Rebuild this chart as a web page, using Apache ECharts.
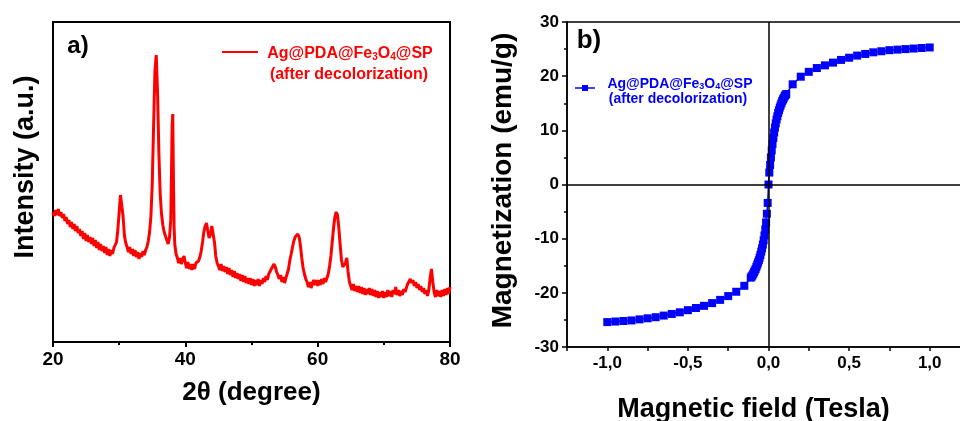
<!DOCTYPE html>
<html>
<head>
  <meta charset="utf-8">
  <title>XRD and VSM</title>
  <script src="https://cdn.jsdelivr.net/npm/echarts@6/dist/echarts.min.js"></script>
  <style>
    html, body { margin: 0; padding: 0; background: #fff; }
    #chart { width: 960px; height: 421px; }
  </style>
</head>
<body>
<div id="chart"></div>
<script>
  // a) XRD pattern, [2theta, intensity in arbitrary units]
  const xrdPattern = [
    [20.0,130],[20.2,126],[20.4,132],[20.6,127],[20.8,133],[21.0,126],[21.2,130],[21.4,124],[21.6,128],[21.8,121],
    [22.0,125],[22.2,118],[22.4,122],[22.6,115],[22.8,120],[23.0,113],[23.2,118],[23.4,111],[23.6,116],[23.8,109],
    [24.0,113],[24.2,106],[24.4,111],[24.6,103],[24.8,109],[25.0,101],[25.2,107],[25.4,100],[25.6,105],[25.8,98],
    [26.0,104],[26.2,96],[26.4,102],[26.6,94],[26.8,100],[27.0,92],[27.2,98],[27.4,91],[27.6,96],[27.8,89],
    [28.0,95],[28.2,87],[28.4,93],[28.6,86],[28.8,92],[29.0,88],[29.2,94],[29.4,92],[29.6,100],[29.8,112],
    [30.0,130],[30.2,147],[30.4,146],[30.6,125],[30.8,106],[31.0,99],[31.2,95],[31.4,90],[31.6,95],[31.8,88],
    [32.0,93],[32.2,86],[32.4,92],[32.6,85],[32.8,90],[33.0,83],[33.2,89],[33.4,85],[33.6,91],[33.8,87],
    [34.0,92],[34.2,95],[34.4,101],[34.6,110],[34.8,126],[35.0,158],[35.2,215],[35.4,270],[35.6,287],[35.8,250],
    [36.0,190],[36.2,148],[36.4,128],[36.6,117],[36.8,110],[37.0,106],[37.2,102],[37.4,98],[37.6,104],[37.8,122],
    [37.9,165],[38.0,215],[38.1,228],[38.2,165],[38.3,115],[38.4,98],[38.6,88],[38.8,84],[39.0,79],[39.2,84],
    [39.4,78],[39.6,83],[39.8,86],
    [40.0,79],[40.2,74],[40.4,80],[40.6,73],[40.8,78],[41.0,72],[41.2,78],[41.4,73],[41.6,79],[41.8,77],
    [42.0,81],[42.2,85],[42.4,91],[42.6,100],[42.8,110],[43.0,116],[43.2,119],[43.4,111],[43.6,104],[43.8,108],
    [44.0,116],[44.2,118],[44.4,100],[44.6,86],[44.8,79],[45.0,76],[45.2,72],[45.4,78],[45.6,71],[45.8,76],
    [46.0,70],[46.2,75],[46.4,68],[46.6,74],[46.8,67],[47.0,72],[47.2,65],[47.4,71],[47.6,64],[47.8,69],
    [48.0,63],[48.2,68],[48.4,61],[48.6,67],[48.8,60],[49.0,66],[49.2,59],[49.4,64],[49.6,58],[49.8,64],
    [50.0,57],[50.2,63],[50.4,56],[50.6,62],[50.8,57],[51.0,63],[51.2,56],[51.4,62],[51.6,58],[51.8,64],
    [52.0,60],[52.2,66],[52.4,62],[52.6,68],[52.8,70],[53.0,73],[53.2,71],[53.4,78],[53.6,75],[53.8,70],
    [54.0,67],[54.2,63],[54.4,67],[54.6,60],[54.8,65],[55.0,59],[55.2,64],[55.4,66],[55.6,73],[55.8,82],
    [56.0,88],[56.2,95],[56.4,101],[56.6,105],[56.8,107],[57.0,108],[57.2,105],[57.4,96],[57.6,84],[57.8,74],
    [58.0,68],[58.2,63],[58.4,60],[58.6,55],[58.8,60],[59.0,54],[59.2,59],[59.4,62],[59.6,57],[59.8,62],
    [60.0,56],[60.2,62],[60.4,57],[60.6,63],[60.8,58],[61.0,64],[61.2,60],[61.4,64],[61.6,68],[61.8,76],
    [62.0,86],[62.2,100],[62.4,114],[62.6,125],[62.8,130],[63.0,127],[63.2,114],[63.4,97],[63.6,82],[63.8,75],
    [64.0,74],[64.2,79],[64.4,84],[64.6,70],[64.8,60],[65.0,56],[65.2,52],[65.4,58],[65.6,51],[65.8,56],
    [66.0,50],[66.2,56],[66.4,49],[66.6,55],[66.8,48],[67.0,54],[67.2,47],[67.4,53],[67.6,48],[67.8,54],
    [68.0,47],[68.2,53],[68.4,46],[68.6,52],[68.8,45],[69.0,51],[69.2,44],[69.4,50],[69.6,45],[69.8,51],
    [70.0,44],[70.2,50],[70.4,45],[70.6,52],[70.8,46],[71.0,51],[71.2,45],[71.4,52],[71.6,48],[71.8,55],
    [72.0,47],[72.2,52],[72.4,46],[72.6,51],[72.8,47],[73.0,53],[73.2,50],[73.4,54],[73.6,58],[73.8,60],
    [74.0,63],[74.2,59],[74.4,62],[74.6,56],[74.8,60],[75.0,54],[75.2,58],[75.4,52],[75.6,56],[75.8,50],
    [76.0,54],[76.2,48],[76.4,52],[76.6,46],[76.8,52],[77.0,64],[77.2,73],[77.4,60],[77.6,50],[77.8,45],
    [78.0,52],[78.2,46],[78.4,51],[78.6,45],[78.8,52],[79.0,46],[79.2,53],[79.4,47],[79.6,54],[79.8,48],
    [80.0,55]
  ]

  // b) magnetization loop
  const fieldT = [
    -1.0, -0.95, -0.9, -0.85, -0.8, -0.75, -0.7, -0.65, -0.6, -0.55, -0.5, -0.45, -0.4, -0.35, -0.3, -0.25, -0.2, -0.15,
    -0.11, -0.105, -0.1, -0.095, -0.09, -0.085, -0.08, -0.075, -0.07, -0.065, -0.06, -0.055, -0.05, -0.045,
    -0.04, -0.035, -0.03, -0.025, -0.02, -0.015, -0.01, -0.005,
    0, 0.005, 0.01, 0.015, 0.02, 0.025, 0.03, 0.035, 0.04, 0.045, 0.05, 0.055, 0.06, 0.065, 0.07, 0.075,
    0.08, 0.085, 0.09, 0.095, 0.1, 0.105, 0.11,
    0.15, 0.2, 0.25, 0.3, 0.35, 0.4, 0.45, 0.5, 0.55, 0.6, 0.65, 0.7, 0.75, 0.8, 0.85, 0.9, 0.95, 1.0
  ]
  const magnetization = [
    -25.4, -25.3, -25.2, -25.1, -24.9, -24.7, -24.5, -24.2, -23.9, -23.6, -23.2, -22.8, -22.4, -21.9, -21.3, -20.6, -19.8, -18.7,
    -17.2, -17.0, -16.8, -16.5, -16.2, -15.9, -15.6, -15.2, -14.8, -14.4, -14.0, -13.5, -13.0, -12.4,
    -11.8, -11.1, -10.3, -9.4, -8.3, -7.0, -5.4, -3.4,
    0.0, 2.2, 3.6, 5.0, 6.3, 7.5, 8.6, 9.6, 10.5, 11.3, 12.0, 12.6, 13.2, 13.7, 14.2, 14.6,
    15.0, 15.4, 15.7, 16.0, 16.3, 16.5, 16.7,
    18.5, 19.9, 20.8, 21.5, 22.0, 22.5, 23.0, 23.4, 23.8, 24.1, 24.4, 24.6, 24.8, 24.9, 25.0, 25.1, 25.2, 25.3
  ]

  const seriesName = 'Ag@PDA@Fe3O4@SP (after decolorization)'
  const fontFamily = "'Liberation Sans', Arial, Helvetica, sans-serif"
  const black = '#000'

  let chart = echarts.init(document.getElementById('chart'), null, { renderer: 'canvas' })

  // shared bold text style
  function bold(size, color) {
    return { color: color || black, fontSize: size, fontWeight: 'bold', fontFamily: fontFamily }
  }

  // rich text for the sample name with subscripts
  function sampleRich(size, color) {
    return {
      n: { fontSize: size, fontWeight: 'bold', fontFamily: fontFamily, fill: color, color: color, verticalAlign: 'bottom', lineHeight: size + 4 },
      s: { fontSize: Math.round(size * 0.65), fontWeight: 'bold', fontFamily: fontFamily, fill: color, color: color, verticalAlign: 'bottom', lineHeight: Math.round(size * 0.65) }
    }
  }
  const sampleText = '{n|Ag@PDA@Fe}{s|3}{n|O}{s|4}{n|@SP}'

  let option = {
    animation: false,
    backgroundColor: '#fff',
    grid: [
      { left: 53, top: 22, width: 397, height: 320, show: true, borderColor: black, borderWidth: 2, outerBoundsMode: 'none', containLabel: false },
      // right edge of the second frame lies past the picture border
      { left: 567, top: 22, width: 403, height: 325, show: true, borderColor: black, borderWidth: 1.5, outerBoundsMode: 'none', containLabel: false }
    ],
    xAxis: [
      {
        gridIndex: 0, type: 'value', min: 20, max: 80, interval: 20,
        name: '2θ (degree)', nameLocation: 'middle', nameGap: 38, nameTextStyle: bold(26),
        axisLine: { lineStyle: { color: black, width: 2 } },
        axisTick: { length: 5, lineStyle: { color: black, width: 2 } },
        minorTick: { show: true, splitNumber: 2, length: 3, lineStyle: { color: black, width: 2 } },
        axisLabel: Object.assign(bold(19), { margin: 8 }),
        splitLine: { show: false }
      },
      {
        gridIndex: 1, type: 'value', min: -1.25, max: 1.25, interval: 0.25,
        name: 'Magnetic field (Tesla)', nameLocation: 'middle', nameGap: 49,
        nameTextStyle: Object.assign(bold(27), { padding: [0, 30, 0, 0] }),
        axisLine: { onZero: false, lineStyle: { color: black, width: 1.5 } },
        axisTick: { length: 4, lineStyle: { color: black, width: 1.5 } },
        axisLabel: Object.assign(bold(17), {
          margin: 8,
          formatter: function (v) {
            let d = v * 2
            if (Math.abs(d - Math.round(d)) > 1e-6 || Math.abs(v) > 1.01) return ''
            return v.toFixed(1).replace('.', ',')
          }
        }),
        splitLine: { show: false }
      }
    ],
    yAxis: [
      {
        gridIndex: 0, type: 'value', min: 0, max: 320,
        name: 'Intensity (a.u.)', nameLocation: 'middle', nameGap: 14,
        nameTextStyle: Object.assign(bold(27), { padding: [0, 0, 0, 30] }),
        axisLine: { lineStyle: { color: black, width: 2 } },
        axisTick: { show: false },
        axisLabel: { show: false },
        splitLine: { show: false }
      },
      {
        gridIndex: 1, type: 'value', min: -30, max: 30, interval: 10,
        name: 'Magnetization (emu/g)', nameLocation: 'middle', nameGap: 50,
        nameTextStyle: Object.assign(bold(28), { padding: [0, 0, 0, 8] }),
        axisLine: { onZero: false, lineStyle: { color: black, width: 1.5 } },
        axisTick: { length: 5, lineStyle: { color: black, width: 1.5 } },
        minorTick: { show: true, splitNumber: 2, length: 3, lineStyle: { color: black, width: 1.5 } },
        axisLabel: Object.assign(bold(17), { margin: 8 }),
        splitLine: { show: false }
      }
    ],
    series: [
      {
        name: seriesName,
        type: 'line',
        xAxisIndex: 0, yAxisIndex: 0,
        data: xrdPattern,
        showSymbol: false,
        sampling: 'none',
        lineStyle: { color: '#ff0000', width: 3 },
        itemStyle: { color: '#ff0000' },
        z: 3
      },
      {
        // zero lines drawn under the data
        type: 'line',
        xAxisIndex: 1, yAxisIndex: 1,
        data: [[0, 0]],
        showSymbol: false,
        lineStyle: { opacity: 0 },
        silent: true,
        z: 1,
        markLine: {
          silent: true,
          symbol: 'none',
          label: { show: false },
          lineStyle: { color: black, type: 'solid', width: 1.5 },
          data: [{ xAxis: 0 }, { yAxis: 0 }]
        }
      },
      {
        name: seriesName,
        type: 'line',
        xAxisIndex: 1, yAxisIndex: 1,
        data: fieldT.map((h, i) => [h, magnetization[i]]),
        symbol: 'rect',
        symbolSize: 8,
        showAllSymbol: true,
        lineStyle: { color: '#0000ff', width: 1.5 },
        itemStyle: { color: '#0000ff' },
        z: 3
      }
    ],
    graphic: [
      { type: 'text', x: 78, y: 46, style: { text: 'a)', fill: black, font: 'bold 24px ' + fontFamily, align: 'center', verticalAlign: 'middle' } },
      { type: 'text', x: 589, y: 41, style: { text: 'b)', fill: black, font: 'bold 26px ' + fontFamily, align: 'center', verticalAlign: 'middle' } },

      // legend a)
      { type: 'line', shape: { x1: 222, y1: 52, x2: 258, y2: 52 }, style: { stroke: '#ff0000', lineWidth: 2 } },
      { type: 'text', x: 350, y: 52, style: { text: sampleText, rich: sampleRich(16, '#ff0000'), fill: '#ff0000', align: 'center', verticalAlign: 'middle' } },
      { type: 'text', x: 349, y: 75, style: { text: '(after decolorization)', fill: '#ff0000', font: 'bold 16px ' + fontFamily, align: 'center', verticalAlign: 'middle' } },

      // legend b)
      { type: 'line', shape: { x1: 575, y1: 88, x2: 595, y2: 88 }, style: { stroke: '#0000ff', lineWidth: 1.5 } },
      { type: 'rect', shape: { x: 582, y: 85, width: 6, height: 6 }, style: { fill: '#0000ff' } },
      { type: 'text', x: 680, y: 82, style: { text: sampleText, rich: sampleRich(14, '#0000ff'), fill: '#0000ff', align: 'center', verticalAlign: 'middle' } },
      { type: 'text', x: 678, y: 99, style: { text: '(after decolorization)', fill: '#0000ff', font: 'bold 14px ' + fontFamily, align: 'center', verticalAlign: 'middle' } }
    ]
  }

  chart.setOption(option)
</script>
</body>
</html>
